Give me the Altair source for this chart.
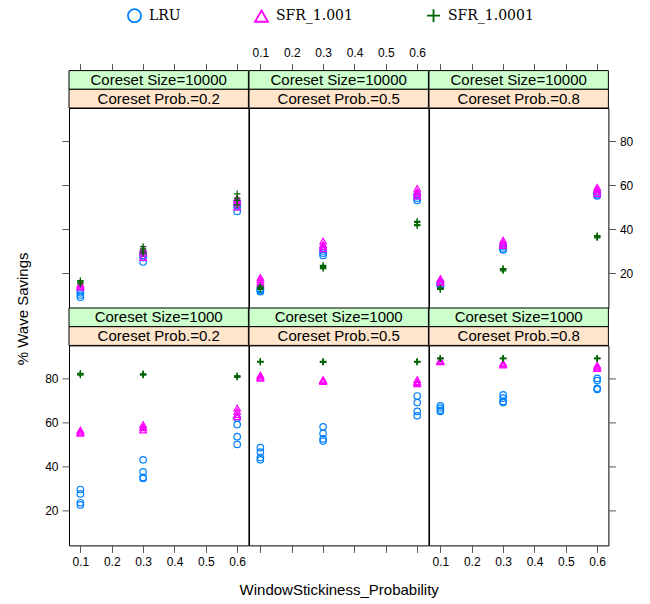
import altair as alt
import pandas as pd

methods = ["LRU", "SFR_1.001", "SFR_1.0001"]
coreset_sizes = [10000, 1000]          # panel rows, top to bottom
coreset_probs = [0.2, 0.5, 0.8]        # panel columns, left to right
stickiness = [0.1, 0.3, 0.6]           # x positions
x_ticks = [0.1, 0.2, 0.3, 0.4, 0.5, 0.6]
y_ticks = [20, 40, 60, 80]

# replicate % wave savings at stickiness 0.1 / 0.3 / 0.6
lru_10000_p02 = [[9, 10, 11, 12], [25, 27, 28, 29], [48, 50, 51, 52]]
sfr1001_10000_p02 = [[13.5, 14, 14.5, 15], [27, 29, 30, 31], [50, 52, 53, 54]]
sfr10001_10000_p02 = [[15, 15.5, 16, 16.5], [29, 30, 31, 32], [51, 53, 54, 56]]

lru_10000_p05 = [[11.5, 12, 12.5, 13], [28, 29, 30, 31], [53, 54, 55, 55.5]]
sfr1001_10000_p05 = [[15, 16, 17, 18], [31, 32, 33, 34.5], [55, 56, 57, 58.5]]
sfr10001_10000_p05 = [[12.5, 13, 13.5, 14], [22, 22.5, 23, 23.5], [41.5, 42, 43, 43.5]]

lru_10000_p08 = [[14, 14.5, 15, 15.5], [30.5, 31, 32, 32.5], [55, 55.5, 56, 56.5]]
sfr1001_10000_p08 = [[15.5, 16, 17, 17.5], [32.5, 33, 34, 35], [56, 57, 58, 59]]
sfr10001_10000_p08 = [[12.5, 12.7, 13, 13.2], [21, 21.5, 22, 22], [36, 36.5, 36.5, 37]]

lru_1000_p02 = [[22.5, 23.5, 27.5, 29.5], [34.5, 35, 37.5, 43], [50, 53.5, 59, 62]]
sfr1001_1000_p02 = [[55, 55.5, 56, 56.5], [56.5, 57.5, 58, 59], [62.5, 63.5, 65, 66.5]]
sfr10001_1000_p02 = [[81.5, 82, 82, 82.3], [81.5, 81.8, 82, 82], [80.5, 80.8, 81, 81.2]]

lru_1000_p05 = [[43, 44, 46.5, 48.5], [51.5, 52.5, 55, 58], [63, 65, 69, 72]]
sfr1001_1000_p05 = [[80, 80.5, 81, 81.5], [78.5, 79, 79, 79.5], [77.5, 78, 78.5, 79.5]]
sfr10001_1000_p05 = [[87.5, 87.5, 87.6, 87.8], [87.4, 87.5, 87.6, 87.7], [87.4, 87.5, 87.6, 87.7]]

lru_1000_p08 = [[65, 65.5, 66.5, 67.5], [69, 69.5, 71, 72.5], [75, 75.5, 79, 80]]
sfr1001_1000_p08 = [[87.5, 87.7, 88, 88.2], [86, 86.5, 86.5, 87], [84.5, 85, 85.5, 86]]
sfr10001_1000_p08 = [[89, 89, 89.2, 89.2], [89, 89, 89.1, 89.2], [89, 89, 89.1, 89.2]]

panel_values = {
    (10000, 0.2): [lru_10000_p02, sfr1001_10000_p02, sfr10001_10000_p02],
    (10000, 0.5): [lru_10000_p05, sfr1001_10000_p05, sfr10001_10000_p05],
    (10000, 0.8): [lru_10000_p08, sfr1001_10000_p08, sfr10001_10000_p08],
    (1000, 0.2): [lru_1000_p02, sfr1001_1000_p02, sfr10001_1000_p02],
    (1000, 0.5): [lru_1000_p05, sfr1001_1000_p05, sfr10001_1000_p05],
    (1000, 0.8): [lru_1000_p08, sfr1001_1000_p08, sfr10001_1000_p08],
}

records = []
for (size, prob), series in panel_values.items():
    for m, arr in zip(methods, series):
        for w, reps in zip(stickiness, arr):
            for v in reps:
                records.append({"size": size, "prob": prob, "method": m, "ws": w, "value": v})
df = pd.DataFrame(records)

W, H, S = 179.4, 200, 18.7
xs = alt.Scale(domain=[0.0637, 0.6357], nice=False, zero=False)
ys = alt.Scale(domain=[4.1, 95.0], nice=False, zero=False)

color_scale = alt.Scale(domain=methods, range=["#0080ff", "#ff00ff", "#006400"])
shape_scale = alt.Scale(domain=methods, range=["circle", "triangle-up", "M-1,0L1,0M0,-1L0,1"])

FONT = "Liberation Sans"
axis_common = dict(grid=False, domain=False, ticks=True, tickSize=7, tickColor="#555555",
                   tickWidth=1, labelFont=FONT, labelFontSize=12, labelColor="black",
                   labelPadding=4, titleFont=FONT, titleFontSize=15, titleColor="black",
                   titleFontWeight="normal")

legend = alt.Legend(title=None, orient="none", legendX=58, legendY=-100, direction="horizontal",
                    labelFont="DejaVu Serif", labelFontSize=14, labelColor="black",
                    symbolSize=170, symbolStrokeWidth=1.8, columnPadding=70, labelOffset=7,
                    padding=0)


def panel(r, c):
    size, prob = coreset_sizes[r], coreset_probs[c]
    d = df[(df["size"] == size) & (df["prob"] == prob)]

    if r == 1:
        if c == 1:
            xb = alt.Axis(orient="bottom", values=x_ticks, labels=False,
                          title="WindowStickiness_Probability", titleX=W / 2, titleY=44.5,
                          titleBaseline="middle", titleAlign="center", **axis_common)
        else:
            xb = alt.Axis(orient="bottom", values=x_ticks, labels=True, title=None, **axis_common)
    else:
        xb = None
    if c == 0:
        if r == 1:
            yl = alt.Axis(orient="left", values=y_ticks, labels=True, title="% Wave Savings",
                          titleX=-47, titleY=-37, titleAngle=270, titleAlign="center",
                          titleBaseline="middle", **axis_common)
        else:
            yl = alt.Axis(orient="left", values=y_ticks, labels=False, title=None, **axis_common)
    else:
        yl = None

    pts = alt.Chart(d).mark_point(filled=False, strokeWidth=1.2, size=42, opacity=1).encode(
        x=alt.X("ws:Q", scale=xs, axis=xb),
        y=alt.Y("value:Q", scale=ys, axis=yl),
        color=alt.Color("method:N", scale=color_scale, legend=legend),
        shape=alt.Shape("method:N", scale=shape_scale, legend=legend),
    )
    layers = [pts]

    xt = alt.Axis(orient="top", values=x_ticks, labels=(c == 1), title=None, offset=2 * S,
                  **axis_common) if r == 0 else None
    yr = alt.Axis(orient="right", values=y_ticks, labels=(r == 0), title=None,
                  **axis_common) if c == 2 else None
    if xt is not None or yr is not None:
        helper = alt.Chart(d).mark_point(opacity=0).encode(
            x=alt.X("ws:Q", scale=xs, axis=xt),
            y=alt.Y("value:Q", scale=ys, axis=yr),
        )
        layers.append(helper)

    lab = pd.DataFrame({"outer": [f"Coreset Size={size}"], "inner": [f"Coreset Prob.={prob}"]})
    sb = alt.Chart(lab)
    outer_rect = sb.mark_rect(fill="#ccffcc", stroke="black", strokeWidth=1).encode(
        x=alt.value(0), x2=alt.value(W), y=alt.value(-2 * S), y2=alt.value(-S))
    inner_rect = sb.mark_rect(fill="#ffe5cc", stroke="black", strokeWidth=1).encode(
        x=alt.value(0), x2=alt.value(W), y=alt.value(-S), y2=alt.value(0))
    outer_txt = sb.mark_text(font=FONT, fontSize=15, baseline="middle", align="center",
                             color="black").encode(
        x=alt.value(W / 2), y=alt.value(-1.5 * S), text="outer:N")
    inner_txt = sb.mark_text(font=FONT, fontSize=15, baseline="middle", align="center",
                             color="black").encode(
        x=alt.value(W / 2), y=alt.value(-0.5 * S), text="inner:N")
    layers += [outer_rect, inner_rect, outer_txt, inner_txt]

    return alt.layer(*layers).resolve_axis(x="independent", y="independent").properties(
        width=W, height=H)


panels = [panel(r, c) for r in range(2) for c in range(3)]
chart = alt.concat(*panels, columns=3, spacing={"row": 2 * S, "column": 0},
                   bounds="flush").configure_view(
    stroke="black", strokeWidth=1).properties(
    padding={"left": 6, "top": 0, "right": 5, "bottom": 5})

chart.save("out.html", embed_options={"renderer": "svg", "actions": False})
